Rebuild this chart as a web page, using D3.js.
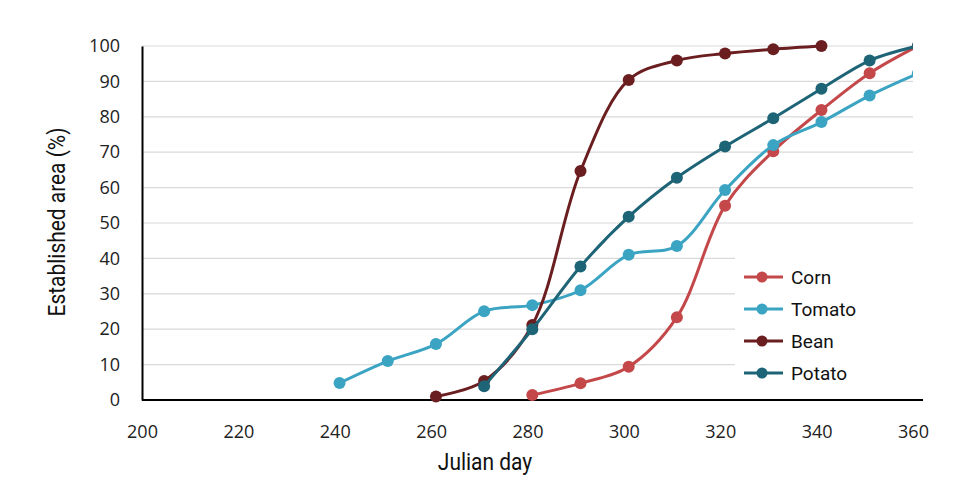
<!DOCTYPE html>
<html><head><meta charset="utf-8">
<script src="https://cdn.jsdelivr.net/npm/d3@7"></script>
<style>
body{margin:0;background:#fff;}
svg{display:block;}
.tick text{font-family:"Open Sans","Liberation Sans",sans-serif;}
.narrow{font-family:"Roboto","Liberation Sans",sans-serif;}
</style></head>
<body><svg id="c" width="968" height="494"></svg>
<script>
const days = [241,251,261,271,281,291,301,311,321,331,341,351,361];
const seriesNames = ["Corn","Tomato","Bean","Potato"];
const colors = ["#c4484a","#3ba4c3","#6b1e20","#1e6477"];
const corn =   [null,null,null,null,1.4,4.7,9.4,23.4,54.9,70.3,81.9,92.3,100];
const tomato = [4.8,11,15.8,25.1,26.8,31,41,43.5,59.3,72,78.5,86,92.2];
const bean =   [null,null,1,5.4,21.2,64.7,90.4,95.9,97.9,99.1,100,null,null];
const potato = [null,null,null,3.9,20,37.7,51.8,62.8,71.6,79.6,87.9,95.9,100];
const values = [corn,tomato,bean,potato];
const xTicks = [200,220,240,260,280,300,320,340,360];
const yTicks = [0,10,20,30,40,50,60,70,80,90,100];

const svg = d3.select("#c");
const x = d3.scaleLinear().domain([200,360]).range([142,913]);
const y = d3.scaleLinear().domain([0,100]).range([400,46]);

svg.append("defs").append("clipPath").attr("id","clip")
  .append("rect").attr("x",100).attr("y",0).attr("width",913-100).attr("height",494);

// gridlines
svg.append("g").selectAll("line").data(yTicks.filter(d=>d>0)).join("line")
  .attr("x1",142).attr("x2",913).attr("y1",d=>y(d)).attr("y2",d=>y(d))
  .attr("stroke","#d9d9d9").attr("stroke-width",1.2);

// y axis
const ya = svg.append("g").attr("transform","translate(142,0)")
  .call(d3.axisLeft(y).tickValues(yTicks).tickSize(0).tickPadding(22));
ya.select(".domain").attr("stroke","#000").attr("stroke-width",2);
ya.selectAll("text").attr("font-size",18).attr("fill","#222");

// x axis
const xa = svg.append("g").attr("transform","translate(0,400)")
  .call(d3.axisBottom(x).tickValues(xTicks).tickSize(0).tickPadding(25));
xa.select(".domain").attr("stroke","#000").attr("stroke-width",2.2).attr("d","M142,0H923");
xa.selectAll("text").attr("font-size",18).attr("fill","#222");

// legend background
svg.append("rect").attr("x",735).attr("y",250).attr("width",180).attr("height",146).attr("fill","#fff");

const line = d3.line().defined(d=>d[1]!=null).x(d=>x(d[0])).y(d=>y(d[1])).curve(d3.curveCatmullRom.alpha(0.5));
const plot = svg.append("g").attr("clip-path","url(#clip)");
values.forEach((vals,i)=>{
  const pts = days.map((d,j)=>[d,vals[j]]);
  plot.append("path").datum(pts).attr("d",line).attr("fill","none")
    .attr("stroke",colors[i]).attr("stroke-width",3);
  plot.append("g").selectAll("circle").data(pts.filter(p=>p[1]!=null)).join("circle")
    .attr("cx",p=>x(p[0])).attr("cy",p=>y(p[1])).attr("r",6).attr("fill",colors[i]);
});

// legend
const lg = svg.append("g");
seriesNames.forEach((n,i)=>{
  const yy = 277 + i*32;
  lg.append("line").attr("x1",744).attr("x2",783).attr("y1",yy).attr("y2",yy).attr("stroke",colors[i]).attr("stroke-width",3);
  lg.append("circle").attr("cx",762).attr("cy",yy).attr("r",5.5).attr("fill",colors[i]);
  lg.append("text").attr("class","narrow").attr("x",791).attr("y",yy).attr("dy","0.35em")
    .attr("font-size",19).attr("fill","#111").text(n);
});

// axis titles
svg.append("text").attr("class","narrow").attr("transform","translate(57,222) rotate(-90) scale(0.91,1)")
  .attr("text-anchor","middle").attr("dy","0.35em").attr("font-size",23).attr("fill","#111").text("Established area (%)");
svg.append("text").attr("class","narrow").attr("transform","translate(485,462) scale(0.91,1)")
  .attr("text-anchor","middle").attr("dy","0.35em").attr("font-size",23).attr("fill","#111").text("Julian day");
</script></body></html>
